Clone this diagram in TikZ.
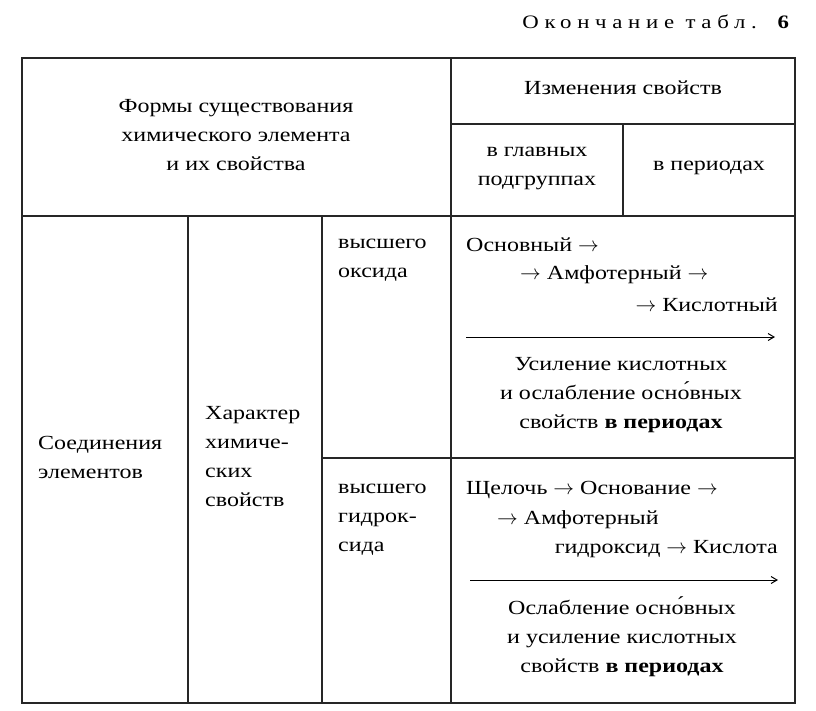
\documentclass[tikz,border=0pt]{standalone}
\usepackage{fontspec}
\setmainfont{Liberation Serif}[FakeStretch=1.2]
\usetikzlibrary{arrows.meta}
\begin{document}
\begin{tikzpicture}[x=1pt,y=-1pt,
  grid/.style={line width=1.3pt,black!85},
  txt/.style={font=\fontsize{20}{29}\selectfont,inner sep=0pt,align=center,anchor=center},
  txl/.style={txt,align=left,anchor=west},
  flow/.style={line width=1pt,-{Straight Barb[length=6pt,width=7pt]}}]
\useasboundingbox (0,0) rectangle (816,710);
\node[txt,anchor=east,font=\fontsize{19}{20}\selectfont\addfontfeatures{LetterSpace=30}] (title) at (795,22) {Окончание табл. \textbf{6}};
% grid
\draw[grid] (22,58) rectangle (795,703);
\draw[grid] (22,216) -- (795,216);
\draw[grid] (451,58) -- (451,703);
\draw[grid] (451,124) -- (795,124);
\draw[grid] (623,124) -- (623,216);
\draw[grid] (188,216) -- (188,703);
\draw[grid] (322,216) -- (322,703);
\draw[grid] (322,458) -- (795,458);
% header
\node[txt] (h1) at (236,135) {Формы существования\\химического элемента\\и их свойства};
\node[txt] (h2) at (623,88) {Изменения свойств};
\node[txt] (h3) at (537,168) {в главных\\подгруппах};
\node[txt] (h4) at (709,168) {в периодах};
% body left
\node[txl] (c1) at (38,457) {Соединения\\элементов};
\node[txl] (c2) at (205,457) {Характер\\химиче-\\ских\\свойств};
\node[txl] (c3) at (338,260) {высшего\\оксида};
\node[txl] (c4) at (338,520) {высшего\\гидрок-\\сида};
% oxide
\node[txl] (o1) at (466,245) {Основный $\rightarrow$};
\node[txl] (o2) at (520,275) {$\rightarrow$ Амфотерный $\rightarrow$};
\node[txt,anchor=east] (o3) at (778,305) {$\rightarrow$ Кислотный};
\coordinate (a1s) at (466,337); \coordinate (a1e) at (775,337);
\draw[flow] (a1s) -- (a1e);
\node[txt] (o4) at (621,395) {Усиление кислотных\\и ослабление осн\'{о}вных\\свойств \textbf{в периодах}};
% hydroxide
\node[txl] (g1) at (466,490) {Щелочь $\rightarrow$ Основание $\rightarrow$};
\node[txl] (g2) at (497,520) {$\rightarrow$ Амфотерный};
\node[txt,anchor=east] (g3) at (778,549) {гидроксид $\rightarrow$ Кислота};
\coordinate (a2s) at (470,580); \coordinate (a2e) at (778,580);
\draw[flow] (a2s) -- (a2e);
\node[txt] (g4) at (622,637) {Ослабление осн\'{о}вных\\и усиление кислотных\\свойств \textbf{в периодах}};
\end{tikzpicture}
\end{document}
